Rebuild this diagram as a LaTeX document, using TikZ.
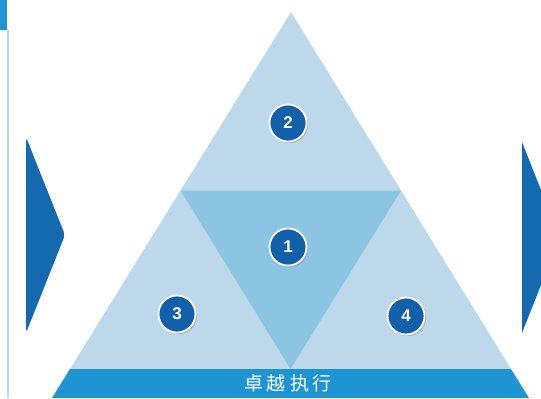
\documentclass[tikz,border=0pt]{standalone}
\usepackage{fontspec}
\setsansfont{Liberation Sans}
\newfontfamily\cjk{Noto Sans CJK SC}
\usetikzlibrary{shadows}

\definecolor{lightpart}{RGB}{190,216,235}
\definecolor{midpart}{RGB}{140,196,228}
\definecolor{bandblue}{RGB}{30,148,210}
\definecolor{arrowblue}{RGB}{20,105,175}
\definecolor{numblue}{RGB}{18,96,170}
\definecolor{edgegray}{RGB}{200,212,228}

\begin{document}
\begin{tikzpicture}[x=0.5pt, y=-0.5pt]
    \useasboundingbox (0,0) rectangle (541,398);

    \fill[color=bandblue] (0,0) rectangle (7,30);
    \draw[color=edgegray, line width=1pt] (8,30) -- (8,398);

    \fill[color=arrowblue, rounded corners=2pt] (26,137) -- (65,235) -- (26,333) -- cycle;
    \fill[color=arrowblue] (522,142) -- (541,190) -- (541,285) -- (522,333) -- cycle;

    \fill[color=lightpart] (291,12) -- (70,369) -- (511,369) -- cycle;
    \fill[color=midpart] (180.5,190.5) -- (401,190.5) -- (290.5,369) -- cycle;

    \fill[color=bandblue] (70,369) -- (511,369) -- (529,398) -- (52,398) -- cycle;
    \node[text=white, font=\cjk\fontsize{9.5}{9.5}\selectfont] (label) at (288,383)
        {卓\hspace{2pt}越\hspace{2pt}执\hspace{2pt}行};

    \tikzset{num/.style={circle, fill=numblue, draw=white, line width=0.9pt,
        minimum size=18.5pt, inner sep=0pt, text=white,
        font=\sffamily\bfseries\fontsize{8.5}{8.5}\selectfont,
        drop shadow={shadow xshift=0.8pt, shadow yshift=-0.8pt, fill=black!45, opacity=0.5}}}

    \node[num] (c1) at (288,247) {1};
    \node[num] (c2) at (288,123) {2};
    \node[num] (c3) at (177,314) {3};
    \node[num] (c4) at (406,316) {4};
\end{tikzpicture}
\end{document}
